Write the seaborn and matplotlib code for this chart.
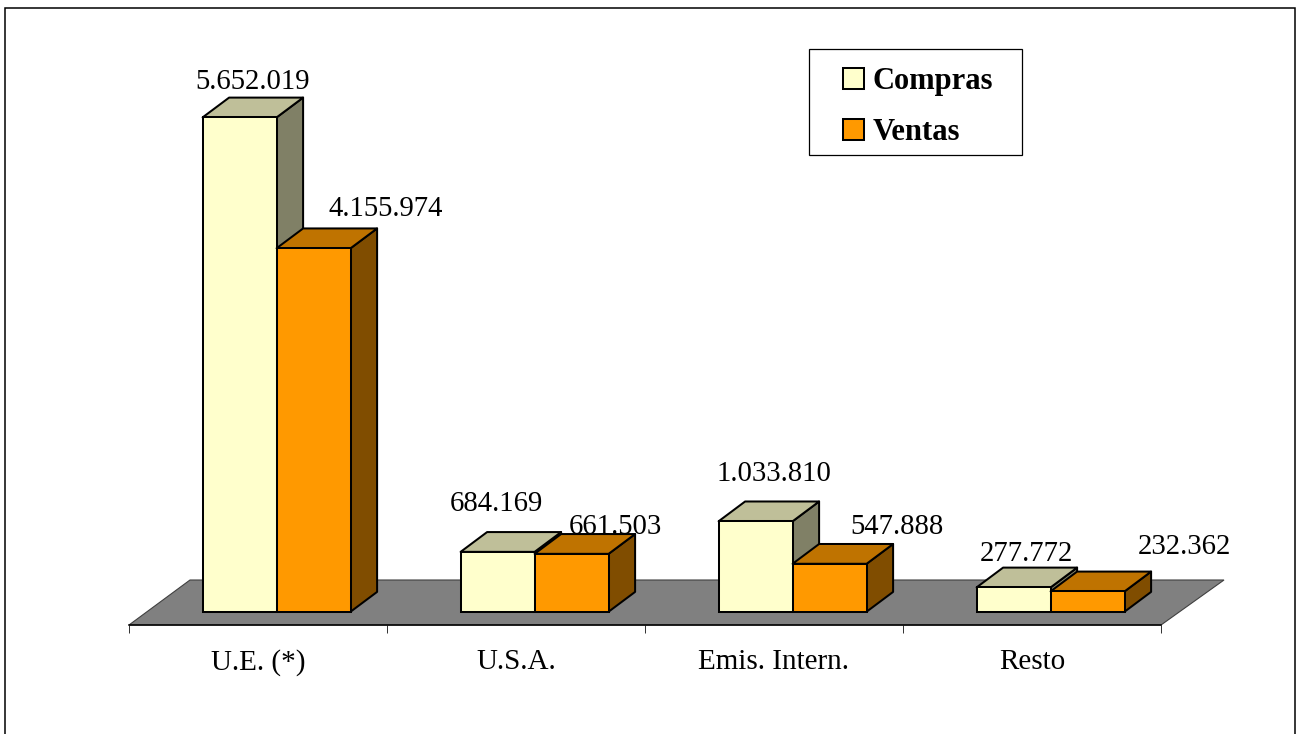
import matplotlib
matplotlib.use("Agg")
import matplotlib.pyplot as plt
import pandas as pd
import seaborn as sns
from matplotlib.patches import Polygon, Rectangle
from matplotlib.ticker import FixedLocator

categories = ["U.E. (*)", "U.S.A.", "Emis. Intern.", "Resto"]
compras = [5652019, 684169, 1033810, 277772]
ventas = [4155974, 661503, 547888, 232362]
series_names = ["Compras", "Ventas"]
label_texts = ["5.652.019", "684.169", "1.033.810", "277.772",
               "4.155.974", "661.503", "547.888", "232.362"]

# pixel offsets of each value label from the centre-top of its bar
label_dx = [13, -1.5, 18.5, 12.5, 72.5, 43.5, 67, 96.5]
label_dy = [35, 47.5, 47, 33.5, 39.5, 26.5, 36.5, 44]

W, H = 1299, 734
colors = {"Compras": "#FFFFCC", "Ventas": "#FF9900"}
top_colors = {"Compras": "#BFBF99", "Ventas": "#BF7300"}
side_colors = {"Compras": "#808066", "Ventas": "#804D00"}

sns.set_theme(style="white")
plt.rcParams["font.family"] = ["Liberation Serif", "DejaVu Serif"]

fig = plt.figure(figsize=(W / 100, H / 100), dpi=100, facecolor="white")
ax_l, ax_r, ax_b, ax_t = 129, 1161, 625, 20
ax = fig.add_axes([ax_l / W, 1 - ax_b / H, (ax_r - ax_l) / W, (ax_b - ax_t) / H])
ax.patch.set_alpha(0)

df = pd.DataFrame({
    "cat": categories * 2,
    "serie": [series_names[0]] * 4 + [series_names[1]] * 4,
    "valor": compras + ventas,
})
lw = 1.45
sns.barplot(data=df, x="cat", y="valor", hue="serie", order=categories,
            hue_order=series_names, palette=colors, width=2 * 74 / 258,
            gap=0, saturation=1, edgecolor="black", linewidth=lw, ax=ax, errorbar=None)

# scales: one pixel in data units
px_x = 4 / (ax_r - ax_l)
px_y = max(compras) / 494.3
base_px = 13.3
ax.set_xlim(-0.5, 3.5)
ax.set_ylim(-base_px * px_y, (ax_b - ax_t - base_px) * px_y)

# floor
x0, x1 = ax.get_xlim()
y0 = ax.get_ylim()[0]
ax.add_patch(Polygon([(x0, y0), (x1, y0), (x1 + 63 * px_x, y0 + 45 * px_y), (x0 + 61 * px_x, y0 + 45 * px_y)],
                     closed=True, facecolor="#808080", edgecolor="#404040", linewidth=0.8,
                     zorder=0.5, clip_on=False))

# extruded depth faces
dx, dy = 26.5 * px_x, 19.8 * px_y
shift = 18.6 * px_x
items = []
for name, cont in zip(series_names, ax.containers):
    for i, bar in enumerate(cont.patches):
        items.append((i, series_names.index(name), name, bar))
items.sort(key=lambda t: (t[0], t[1]))
z = 2
for i, s, name, bar in items:
    bar.set_x(bar.get_x() + shift)
    l, b, w, h = bar.get_x(), bar.get_y(), bar.get_width(), bar.get_height()
    r, t = l + w, b + h
    ax.add_patch(Polygon([(r, b), (r + dx, b + dy), (r + dx, t + dy), (r, t)], closed=True,
                         facecolor=side_colors[name], edgecolor="black", linewidth=lw, zorder=z, joinstyle="round"))
    ax.add_patch(Polygon([(l, t), (l + dx, t + dy), (r + dx, t + dy), (r, t)], closed=True,
                         facecolor=top_colors[name], edgecolor="black", linewidth=lw, zorder=z + 0.1, joinstyle="round"))
    bar.set_zorder(z + 0.2)
    k = s * 4 + i
    ax.annotate(label_texts[k], xy=(l + w / 2, t), xytext=(label_dx[k], label_dy[k]),
                textcoords="offset pixels", ha="center", va="center", fontsize=20.7, color="black", zorder=50)
    z += 1

# axes furniture
sns.despine(ax=ax, left=True, top=True, right=True)
ax.spines["bottom"].set_color("black")
ax.spines["bottom"].set_linewidth(1.1)
ax.spines["bottom"].set_zorder(1)
ax.set_xlabel("")
ax.set_ylabel("")
ax.set_yticks([])
ax.set_xticks(range(4), categories, fontsize=21, color="black")
ax.xaxis.set_minor_locator(FixedLocator([x0 + j for j in range(5)]))
ax.tick_params(axis="x", which="minor", bottom=True, length=5.8, width=0.7, color="#303030")
ax.tick_params(axis="x", which="major", bottom=False, length=0, pad=17.5)

# legend: frameless entries inside a separately drawn box
handles, labels = ax.get_legend_handles_labels()
fs_pt = 22
fs_px = fs_pt * 100 / 72
ax.get_legend().remove()
fig.add_artist(Rectangle((809 / W, 1 - 155 / H), 213 / W, 106 / H, transform=fig.transFigure,
                         facecolor="white", edgecolor="black", linewidth=0.9))
leg = fig.legend(handles, labels, loc="upper left", bbox_to_anchor=(843 / W, 1 - 67 / H),
                 frameon=False, handlelength=21 / fs_px, handleheight=21 / fs_px, handletextpad=9 / fs_px,
                 labelspacing=0.716, borderpad=0, borderaxespad=0, labelcolor="black",
                 prop={"family": "Liberation Serif", "weight": "bold", "size": fs_pt})
for h in leg.legend_handles:
    h.set_edgecolor("black")
    h.set_linewidth(lw)

# outer frame (its bottom edge falls below the picture)
fig.add_artist(Rectangle((5 / W, -0.05), 1290 / W, 1.05 - 8 / H, transform=fig.transFigure,
                         fill=False, edgecolor="black", linewidth=1.1))

fig.savefig("out.png", dpi=100)
